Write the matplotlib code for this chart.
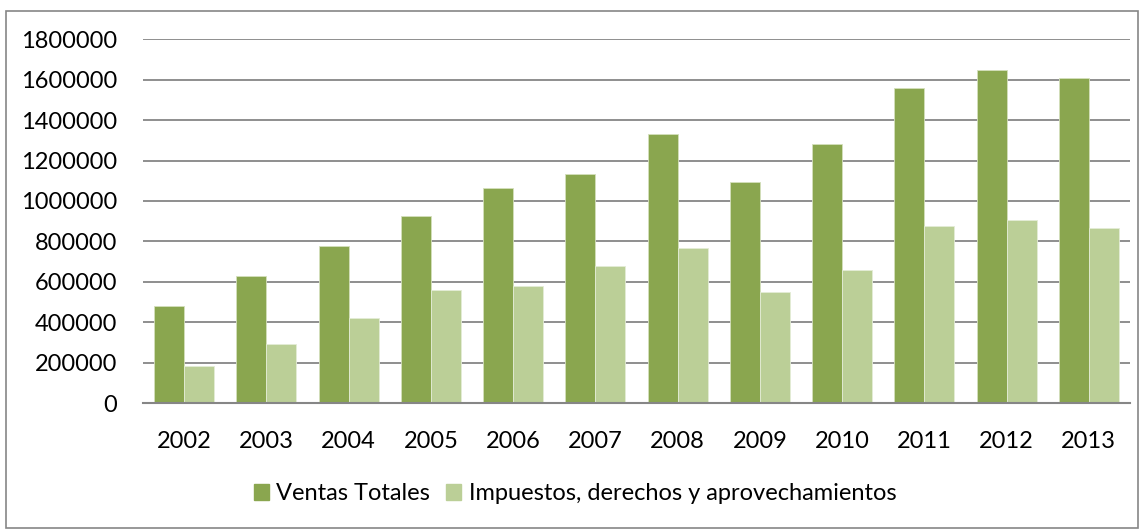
import numpy as np
from matplotlib import pyplot as plt
from matplotlib.patches import Rectangle, Patch

years = ['2002', '2003', '2004', '2005', '2006', '2007',
         '2008', '2009', '2010', '2011', '2012', '2013']
ventas = [479000, 627000, 776000, 925000, 1063000, 1133000,
          1331000, 1093000, 1281000, 1559000, 1648000, 1608000]
impuestos = [182000, 291000, 419000, 558000, 578000, 677000,
             766000, 548000, 657000, 875000, 905000, 865000]
yticks = [0, 200000, 400000, 600000, 800000, 1000000,
          1200000, 1400000, 1600000, 1800000]
labels = ['Ventas Totales', 'Impuestos, derechos y aprovechamientos']

dark = '#8aa64f'
light = '#bbcf97'
grid = '#868686'

plt.rcParams['font.family'] = ['Lato', 'DejaVu Sans']

W, H = 1145, 529
fig = plt.figure(figsize=(W / 100, H / 100), dpi=100)
ax = fig.add_axes([143 / W, 1 - 403 / H, (1130 - 143) / W, (403 - 39.3) / H])

x = np.arange(len(years))
bw = 0.365
ax.bar(x - bw / 2, ventas, bw, color=dark, edgecolor='#d4e0bc', linewidth=0.6, zorder=3)
ax.bar(x + bw / 2, impuestos, bw, color=light, edgecolor='#e4ecd6', linewidth=0.6, zorder=3)

ax.set_xlim(-0.5, len(years) - 0.5)
ax.set_ylim(0, 1800000)
ax.set_yticks(yticks)
ax.set_yticklabels([str(v) for v in yticks])
ax.set_xticks(x)
ax.set_xticklabels(years)
ax.yaxis.grid(True, color=grid, linewidth=1.3, zorder=0)
ax.set_axisbelow(True)
for s in ['top', 'right', 'left']:
    ax.spines[s].set_visible(False)
ax.spines['bottom'].set_color(grid)
ax.spines['bottom'].set_linewidth(1.5)
ax.spines['bottom'].set_zorder(4)
ax.tick_params(axis='y', length=0, pad=18.5, labelsize=17)
ax.tick_params(axis='x', length=0, pad=20, labelsize=17)

handles = [Patch(color=dark), Patch(color=light)]
fig.legend(handles, labels, loc='center', bbox_to_anchor=(575 / W, 1 - 494 / H),
           ncol=2, frameon=False, fontsize=17, handlelength=0.64, handleheight=0.64,
           handletextpad=0.3, columnspacing=0.7)

fig.patches.append(Rectangle((6 / W, 1 / H), 1132 / W, (518 - 1) / H,
                             transform=fig.transFigure, fill=False,
                             edgecolor=grid, linewidth=1.2))

fig.savefig('out.png', dpi=100)
